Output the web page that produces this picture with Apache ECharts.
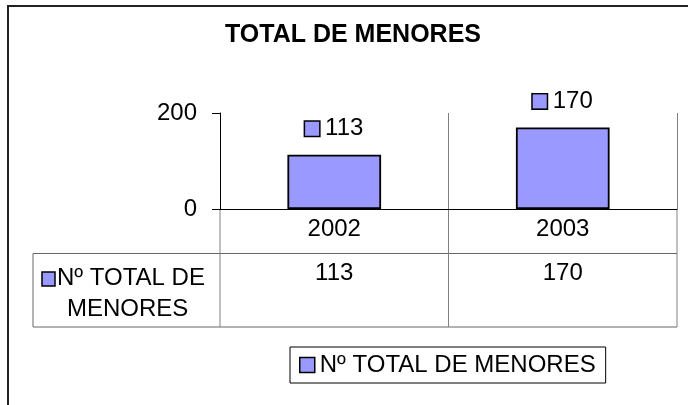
<!DOCTYPE html>
<html><head><meta charset="utf-8">
<script src="https://cdn.jsdelivr.net/npm/echarts@6/dist/echarts.min.js"></script>
<style>html,body{margin:0;padding:0;background:#fff}#c{width:688px;height:405px}</style>
</head><body><div id="c"></div>
<script>
const titleText = 'TOTAL DE MENORES';
const categories = ['2002', '2003'];
const seriesName = 'Nº TOTAL DE MENORES';
const rowHeaderLines = ['Nº TOTAL DE', 'MENORES'];
const values = [113, 170];
const yTicks = [0, 200];

const FONT = "'Liberation Sans', Arial, sans-serif";
const BAR = '#9999FF';
const G = {left: 220, top: 113, right: 677, bottom: 209};
const TABLE = {left: 33, top: 253.5, bottom: 327};

const chart = echarts.init(document.getElementById('c'), null, {renderer: 'canvas'});
chart.setOption({
  animation: false,
  backgroundColor: '#fff',
  textStyle: {fontFamily: FONT},
  title: {
    text: titleText, left: 353, top: 23, textAlign: 'center', padding: 0,
    textStyle: {fontFamily: FONT, fontSize: 25, fontWeight: 'bold', color: '#000'}
  },
  grid: {left: G.left, top: G.top, right: 688 - G.right, bottom: 405 - G.bottom, containLabel: false},
  legend: {
    data: [seriesName], left: 290, top: 347, orient: 'horizontal',
    padding: [6, 10, 6, 9], borderColor: '#000', borderWidth: 1,
    itemWidth: 15, itemHeight: 15, icon: 'rect', selectedMode: false,
    itemStyle: {color: BAR, borderColor: '#000', borderWidth: 1.5},
    textStyle: {fontFamily: FONT, fontSize: 24, color: '#000'}
  },
  xAxis: {
    type: 'category', data: categories,
    axisLine: {show: true, lineStyle: {color: '#000', width: 1}},
    axisTick: {show: false},
    axisLabel: {fontFamily: FONT, fontSize: 24, color: '#000', margin: 8},
    splitLine: {show: true, lineStyle: {color: '#808080', width: 1}}
  },
  yAxis: {
    type: 'value', min: yTicks[0], max: yTicks[yTicks.length - 1],
    interval: yTicks[1] - yTicks[0],
    axisLine: {show: true, lineStyle: {color: '#000', width: 1}},
    axisTick: {show: true, length: 8, lineStyle: {color: '#000'}},
    axisLabel: {fontFamily: FONT, fontSize: 24, color: '#000', margin: 23},
    splitLine: {show: false}
  },
  series: [{
    type: 'bar', name: seriesName, data: values, barWidth: '41%',
    itemStyle: {color: BAR, borderColor: '#000', borderWidth: 1.8},
    label: {
      show: true, position: 'top', distance: 14,
      formatter: p => '{box|}{v|' + p.value + '}',
      rich: {
        box: {width: 14, height: 14, backgroundColor: BAR, borderColor: '#000', borderWidth: 1.5},
        v: {fontFamily: FONT, fontSize: 24, color: '#000', padding: [0, 0, 0, 6]}
      }
    }
  }]
});

const xs = categories.map(c => chart.convertToPixel({xAxisIndex: 0}, c));
const yZero = chart.convertToPixel({yAxisIndex: 0}, 0);
const gl = G.left, gr = G.right;
const half = (xs.length > 1 ? xs[1] - xs[0] : (gr - gl)) / 2;
const bounds = [xs[0] - half].concat(xs.map(x => x + half));
const lineStyle = {stroke: '#666', lineWidth: 1};
const g = [];
g.push({type: 'rect', shape: {x: 8, y: 6, width: 720, height: 440}, style: {fill: 'none', stroke: '#222', lineWidth: 2}, silent: true});
g.push({type: 'line', shape: {x1: TABLE.left, y1: TABLE.top, x2: bounds[bounds.length - 1], y2: TABLE.top}, style: lineStyle});
g.push({type: 'line', shape: {x1: TABLE.left, y1: TABLE.bottom, x2: bounds[bounds.length - 1], y2: TABLE.bottom}, style: lineStyle});
g.push({type: 'line', shape: {x1: TABLE.left, y1: TABLE.top, x2: TABLE.left, y2: TABLE.bottom}, style: lineStyle});
bounds.forEach(b => g.push({type: 'line', shape: {x1: b, y1: yZero, x2: b, y2: TABLE.bottom}, style: {stroke: '#808080', lineWidth: 1}}));
g.push({type: 'rect', shape: {x: 42, y: 272, width: 13, height: 14}, style: {fill: BAR, stroke: '#000', lineWidth: 1.5}});
g.push({type: 'text', x: 57, y: 278, style: {text: rowHeaderLines[0], font: '24px ' + FONT, fill: '#000', verticalAlign: 'middle', align: 'left'}});
g.push({type: 'text', x: 67, y: 309, style: {text: rowHeaderLines[1], font: '24px ' + FONT, fill: '#000', verticalAlign: 'middle', align: 'left'}});
values.forEach((v, i) => g.push({type: 'text', x: xs[i], y: 273, style: {text: String(v), font: '24px ' + FONT, fill: '#000', verticalAlign: 'middle', align: 'center'}}));
chart.setOption({graphic: g});
</script>
</body></html>
